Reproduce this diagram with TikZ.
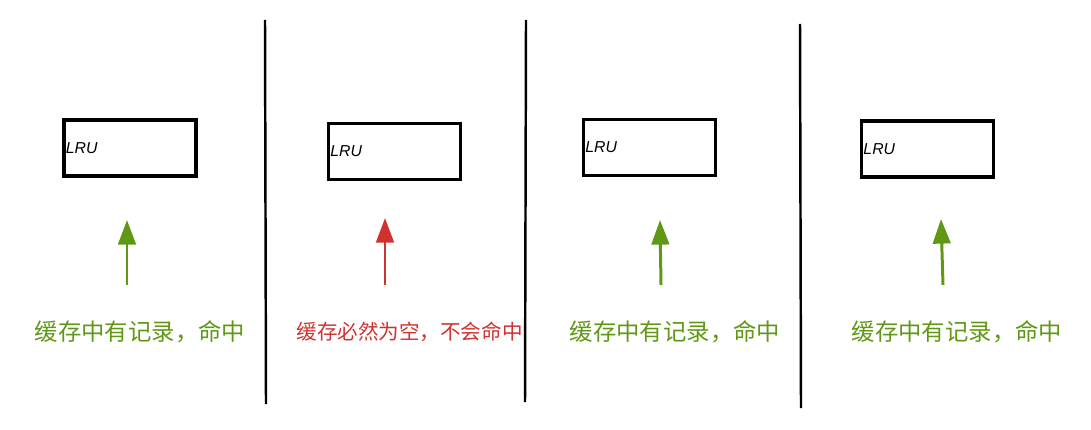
\documentclass[tikz,border=0pt]{standalone}
\usepackage{fontspec}
\usepackage{tikz}
\usetikzlibrary{arrows.meta}
\newfontfamily\cjk{Noto Sans CJK SC}
\newfontfamily\lrufont{Liberation Sans}
\definecolor{hitgreen}{RGB}{96,152,22}
\definecolor{missred}{RGB}{208,50,48}
\tikzset{lrubox/.style={draw,line width=2.2pt,inner sep=0pt,
		minimum width=2.64cm,minimum height=1.12cm,
		label={[anchor=west,inner sep=2pt,font=\lrufont\itshape\fontsize{9}{9}\selectfont]west:LRU}}}

\begin{document}
\begin{tikzpicture}[x=0.02cm,y=-0.02cm]
		\useasboundingbox (0,0) rectangle (1091,429);

		\node[lrubox] (lru1) at (130,148) {};
		\node[lrubox] (lru2) at (394.5,151.5) {};
		\node[lrubox] (lru3) at (649.5,147.5) {};
		\node[lrubox] (lru4) at (927.5,149) {};

		\begin{scope}[every node/.style={font=\cjk\fontsize{13.3}{13.3}\selectfont,text=hitgreen}]
			\node (t1) at (140,332) {缓存中有记录，命中};
			\node (t2) at (409.5,332) [font=\cjk\fontsize{11.7}{11.7}\selectfont,text=missred] {缓存必然为空，不会命中};
			\node (t3) at (675,332) {缓存中有记录，命中};
			\node (t4) at (957,332) {缓存中有记录，命中};
		\end{scope}

		% arrows
		\coordinate (a1) at (127,285); \coordinate (h1) at (127,220);
		\coordinate (a2) at (385,285); \coordinate (h2) at (385,218);
		\coordinate (a3) at (661,285); \coordinate (h3) at (660,220);
		\coordinate (a4) at (943,285); \coordinate (h4) at (941,219);

		% separators
		\coordinate (s1t) at (265,20); \coordinate (s1b) at (266,404);
		\coordinate (s2t) at (526,20); \coordinate (s2b) at (525,402);
		\coordinate (s3t) at (800,24); \coordinate (s3b) at (801,408);

		\begin{scope}[>={Triangle[width=10pt,length=14pt]},
					  every edge/.style={draw,line width=1.7pt}]
			\path [->] (a1) edge[hitgreen] (h1);
			\path [->] (a2) edge[missred] (h2);
			\path [->] (a3) edge[hitgreen] (h3);
			\path [->] (a4) edge[hitgreen] (h4);
		\end{scope}

		\begin{scope}[every edge/.style={draw=black,line width=1.4pt}]
			\path (s1t) edge (s1b);
			\path (s2t) edge (s2b);
			\path (s3t) edge (s3b);
		\end{scope}
		\end{tikzpicture}
\end{document}
